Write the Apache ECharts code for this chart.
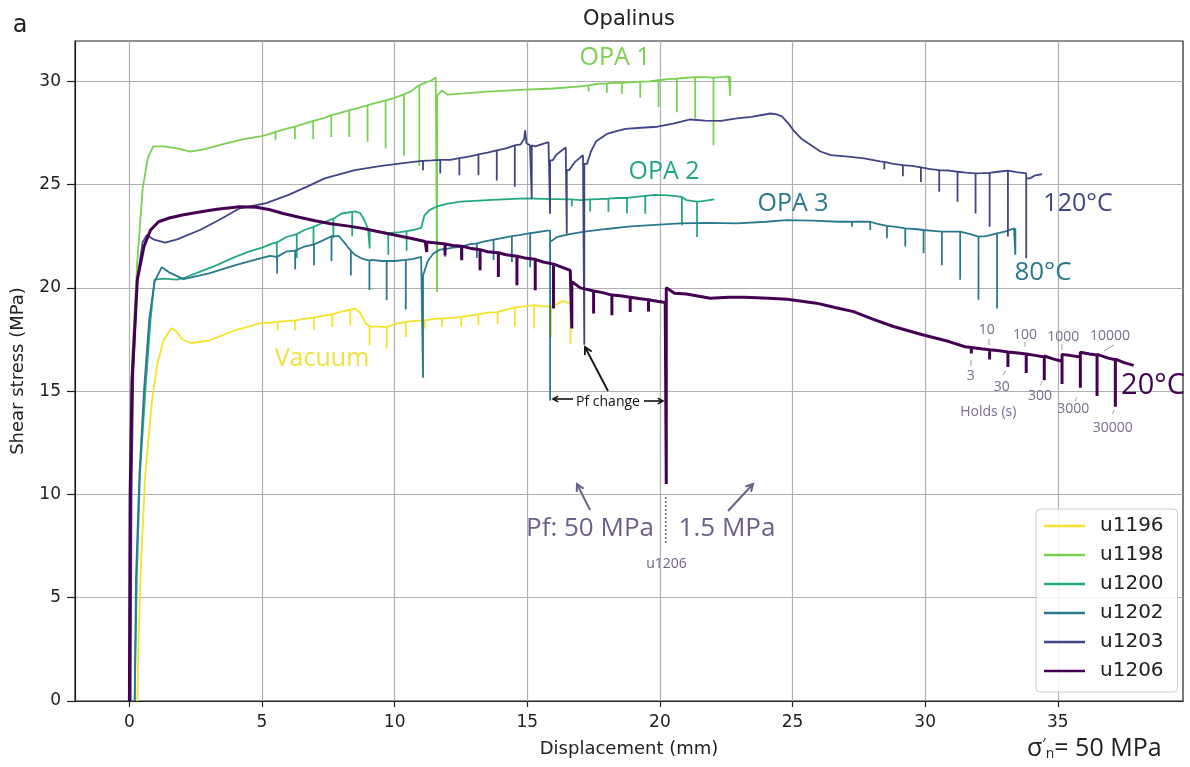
<!DOCTYPE html>
<html><head><meta charset="utf-8">
<script src="https://cdn.jsdelivr.net/npm/echarts@6/dist/echarts.min.js"></script>
<style>html,body{margin:0;padding:0;background:#fff}#c{width:1190px;height:767px}</style>
</head><body><div id="c"></div>
<script>
// ---------------- DATA ----------------
const seriesNames = ['u1196','u1198','u1200','u1202','u1203','u1206'];
const xTicks = [0,5,10,15,20,25,30,35];
const yTicks = [0,5,10,15,20,25,30];

// u1196 (Vacuum)
const u1196_x = [0.3,0.35,0.45,0.6,0.85,1.05,1.3,1.6,1.8,2.0,2.33,3.0,4.0,5.0,5.3,5.9,6.6,7.3,8.0,8.5,8.7,8.9,9.4,10.0,10.8,11.5,12.2,12.8,13.5,14.2,14.9,15.6,16.1,16.34,16.5];
const u1196_y = [0,3,7,11,14.5,16.3,17.5,18.05,17.85,17.5,17.33,17.45,17.95,18.3,18.3,18.4,18.5,18.65,18.85,19.0,18.8,18.3,18.12,18.25,18.4,18.5,18.55,18.65,18.8,18.95,19.1,19.1,19.2,19.37,19.3];
const u1196_holds = [[5.59,18.35,17.95],[6.24,18.43,17.95],[6.96,18.56,17.98],[7.65,18.72,18.11],[8.33,18.95,18.19],[9.05,18.14,17.22],[9.7,18.1,17.06],[10.42,18.35,17.62],[11.14,18.43,18.03],[11.79,18.52,18.1],[12.51,18.6,18.1],[13.16,18.72,18.2],[13.88,18.83,18.25],[14.53,19.05,18.11],[15.26,19.16,18.03],[15.9,19.11,17.62],[16.63,19.24,17.3]];

// u1198 (OPA 1)
const u1198_x = [0.0,0.02,0.1,0.3,0.5,0.7,0.9,1.3,1.8,2.3,2.8,3.5,4.3,5.0,5.3,5.9,6.6,7.3,7.9,8.6,9.3,10.0,10.6,10.85,11.1,11.4,11.55,11.65,11.78,12.0,12.5,13.5,14.9,16.0,17.0,17.7,18.3,18.9,19.6,20.3,21.0,21.7,22.3,22.6];
const u1198_y = [0,12,16.5,21.3,24.8,26.3,26.85,26.85,26.75,26.6,26.7,26.95,27.2,27.35,27.45,27.7,27.95,28.2,28.45,28.7,28.95,29.2,29.5,29.75,29.9,30.05,30.2,29.3,29.55,29.35,29.4,29.5,29.6,29.65,29.75,29.88,29.93,29.95,30.0,30.1,30.17,30.2,30.2,30.24];
const u1198_holds = [[5.51,27.55,27.15],[6.24,27.8,27.2],[6.93,28.08,27.2],[7.61,28.36,27.3],[8.29,28.6,27.3],[8.98,28.84,27.07],[9.66,29.08,26.75],[10.35,29.37,26.4],[10.93,29.8,25.9],[11.6,30.2,19.8,29.3],[17.31,29.8,29.5],[18.0,29.9,29.45],[18.57,29.93,29.4],[19.26,29.98,29.2],[19.95,30.05,28.75],[20.64,30.13,28.5],[21.33,30.2,28.2],[22.02,30.18,26.9],[22.65,30.24,29.3]];

// u1200 (OPA 2)
const u1200_x = [0.2,0.28,0.4,0.6,0.8,0.95,1.3,1.8,2.1,2.7,3.3,3.9,4.5,5.0,5.4,5.9,6.6,7.3,8.0,8.5,8.7,8.85,9.0,9.3,9.8,10.2,10.7,11.0,11.12,11.3,11.6,12.0,12.5,13.5,14.9,16.0,17.0,17.7,18.4,19.1,19.8,20.3,20.5,21.0,21.6,22.05];
const u1200_y = [0,6,11,15,18.5,20.4,20.45,20.4,20.5,20.8,21.1,21.45,21.75,21.95,22.15,22.45,22.8,23.15,23.6,23.7,23.62,23.3,22.85,22.75,22.65,22.7,22.8,22.9,23.5,23.75,23.95,24.08,24.17,24.25,24.33,24.3,24.25,24.3,24.35,24.4,24.5,24.48,24.45,24.25,24.2,24.28];
const u1200_holds = [[5.56,22.2,21.3],[6.31,22.6,21.45],[6.94,22.95,22.1],[7.69,23.35,22.4],[8.4,23.68,22.5],[9.06,22.82,21.9],[9.76,22.65,21.6],[10.45,22.75,21.8],[16.68,24.28,23.95],[17.37,24.28,23.7],[18.06,24.32,23.68],[18.76,24.36,23.6],[19.45,24.45,23.59],[20.83,24.4,23.03],[21.4,24.17,22.46]];

// u1202 (OPA 3, 80°C)
const u1202_x = [0.2,0.25,0.38,0.55,0.75,0.95,1.22,1.5,2.04,3.0,4.0,5.0,5.3,5.9,6.6,7.3,7.66,7.9,8.1,8.25,8.5,8.8,9.15,9.5,10.0,10.7,11.0,11.12,11.25,11.45,11.7,12.2,12.8,13.4,14.0,14.7,15.3,15.75,15.95,16.1,16.6,17.16,18.0,18.79,19.8,20.78,21.8,22.9,24.0,24.78,25.8,26.7,27.6,28.2,28.9,29.6,30.3,31.0,31.7,32.3,33.0,33.35];
const u1202_y = [0,6,11,15,18.5,20.3,21.0,20.75,20.42,20.7,21.1,21.45,21.55,21.75,22.0,22.3,22.56,22.5,22.2,21.95,21.6,21.4,21.35,21.3,21.3,21.4,21.5,20.6,21.3,21.65,21.85,21.95,22.1,22.25,22.4,22.55,22.68,22.77,22.3,22.45,22.6,22.72,22.85,22.96,23.05,23.12,23.15,23.12,23.2,23.28,23.25,23.2,23.2,23.1,22.95,22.85,22.76,22.72,22.6,22.5,22.72,22.88];
const u1202_holds = [[5.57,21.5,20.7],[6.25,21.8,20.9],[6.96,22.1,21.1],[7.62,22.5,21.3],[8.35,21.8,20.6],[9.05,21.32,19.9],[9.7,21.3,19.4],[10.42,21.35,18.95],[11.07,21.5,15.65,20.6],[11.9,21.88,21.5],[12.5,21.98,21.4],[13.1,22.15,21.45],[13.73,22.33,21.35],[14.42,22.5,21.25],[15.11,22.65,21.0],[15.86,22.77,14.55,22.25],[27.24,23.2,22.96],[27.93,23.2,22.8],[28.56,23.0,22.4],[29.25,22.88,22.0],[29.94,22.8,21.67],[30.63,22.72,21.1],[31.32,22.72,20.39],[32.01,22.48,19.42],[32.71,22.64,19.0],[33.4,22.88,21.6]];

// u1203 (120°C)
const u1203_x = [0.05,0.08,0.15,0.3,0.5,0.66,0.9,1.35,1.8,2.66,3.4,4.16,5.16,6.0,6.7,7.36,8.5,9.5,10.4,10.95,11.4,12.1,12.8,13.5,14.2,14.75,14.88,14.92,14.97,15.1,15.3,15.8,15.95,16.1,16.3,16.45,16.58,16.8,17.1,17.25,17.4,17.6,18.0,18.4,18.7,19.3,19.9,20.5,21.15,21.7,22.3,22.9,23.45,23.9,24.17,24.4,24.6,24.85,25.05,25.35,25.7,26.05,26.45,27.1,27.7,28.3,28.8,29.5,30.2,30.9,31.55,32.15,32.75,33.45,33.95,34.15,34.4];
const u1203_y = [0,10,16,20.5,22.2,22.56,22.35,22.19,22.35,22.8,23.3,23.85,24.1,24.5,24.9,25.3,25.7,25.9,26.05,26.13,26.17,26.2,26.35,26.55,26.75,26.95,27.2,27.63,27.0,26.9,26.85,27.05,26.17,26.45,26.65,26.8,25.7,26.1,26.42,26.0,26.6,27.1,27.45,27.6,27.7,27.75,27.8,27.95,28.15,28.1,28.08,28.2,28.28,28.38,28.44,28.4,28.3,27.95,27.6,27.2,26.9,26.6,26.43,26.35,26.27,26.12,26.0,25.9,25.75,25.68,25.58,25.55,25.62,25.6,25.3,25.45,25.5];
const u1203_holds = [[11.07,26.15,25.69],[11.72,26.2,25.53],[12.44,26.28,25.45],[13.16,26.46,25.45],[13.85,26.66,25.2],[14.53,26.9,24.9],[15.17,26.9,24.3],[15.86,27.05,23.59,26.17],[16.49,26.82,22.62,25.7],[17.15,26.42,17.25,26.0],[28.46,26.1,25.73],[29.16,25.94,25.4],[29.84,25.83,25.13],[30.53,25.7,24.65],[31.22,25.62,24.17],[31.9,25.54,23.6],[32.43,25.57,22.96],[33.12,25.67,22.48],[33.81,25.54,21.43,25.3]];

// u1206 (20°C)
const u1206_x = [0.0,0.03,0.1,0.3,0.55,0.8,1.1,1.5,2.0,2.7,3.3,4.16,4.8,5.3,5.8,6.4,7.0,7.6,8.2,8.8,9.4,10.0,10.6,11.15,11.5,12.2,12.9,13.5,14.2,14.9,15.6,16.3,16.62,16.75,17.0,17.8,18.5,19.2,19.9,20.2,20.3,20.55,21.0,21.9,22.6,23.2,24.1,24.8,25.9,26.6,27.3,28.0,28.8,29.9,30.9,31.5,32.1,32.8,33.5,34.2,34.85,35.5,36.2,36.9,37.5,37.86];
const u1206_y = [0,10,15.5,20.4,22.0,22.8,23.2,23.38,23.53,23.68,23.8,23.93,23.9,23.78,23.6,23.42,23.25,23.1,23.0,22.88,22.72,22.56,22.4,22.24,22.18,22.05,21.9,21.75,21.6,21.45,21.25,21.0,20.85,20.25,20.0,19.78,19.62,19.48,19.35,19.29,20.0,19.74,19.7,19.5,19.55,19.55,19.5,19.45,19.26,19.05,18.85,18.5,18.13,17.73,17.4,17.15,17.05,16.95,16.85,16.72,16.55,16.72,16.8,16.6,16.38,16.25];
const u1206_holds = [[11.21,22.22,21.74],[11.9,22.12,21.58],[12.53,22.02,21.34],[13.22,21.85,20.85],[13.91,21.7,20.53],[14.61,21.53,20.13],[15.3,21.38,19.88],[15.99,21.15,19.0],[16.68,20.84,18.03,20.3],[17.5,19.85,18.76],[18.19,19.65,18.67],[18.88,19.55,18.83],[19.57,19.42,18.85],[20.24,19.29,10.5,20.0],[31.74,17.11,16.82],[32.43,17.0,16.53],[33.12,16.9,16.17],[33.81,16.8,15.88],[34.49,16.65,15.53,16.7],[35.16,16.45,15.34,16.78],[35.85,16.65,15.17,16.88],[36.48,16.75,14.76,16.78],[37.17,16.52,14.24,16.55]];

// ---------------- BUILD ----------------
function build(xs, ys, holds) {
  const items = xs.map((x, i) => ({x: x, o: 0, pts: [[x, ys[i]]]}));
  holds.forEach(h => {
    const after = h.length > 3 ? h[3] : h[1];
    items.push({x: h[0], o: 1, pts: [[h[0], h[1]], [h[0], h[2]], [h[0], after]]});
  });
  items.sort((a, b) => a.x - b.x || a.o - b.o);
  const out = [];
  items.forEach(it => it.pts.forEach(p => out.push(p)));
  return out;
}
const seriesData = [
  build(u1196_x, u1196_y, u1196_holds),
  build(u1198_x, u1198_y, u1198_holds),
  build(u1200_x, u1200_y, u1200_holds),
  build(u1202_x, u1202_y, u1202_holds),
  build(u1203_x, u1203_y, u1203_holds),
  build(u1206_x, u1206_y, u1206_holds)
];
const colors = ['#f3e32a','#7ad151','#22a884','#2a788e','#414487','#440154'];
const widths = [1.8,1.8,1.8,1.8,1.8,3.0];

const chart = echarts.init(document.getElementById('c'), null, {renderer: 'canvas'});

const TXT = '#222222';
const ANN = '#6e5f8a';
function text(t, x, y, size, color, family, extra) {
  return Object.assign({type: 'text', x: x, y: y, z: 100,
    style: {text: t, fill: color, fontSize: size, fontFamily: family || 'Open Sans', align: 'center', verticalAlign: 'middle'}}, extra || {});
}
function seg(x1, y1, x2, y2, color, w, dash) {
  return {type: 'line', z: 100, shape: {x1: x1, y1: y1, x2: x2, y2: y2}, style: {stroke: color, lineWidth: w, lineDash: dash || null}};
}
function arrow(x1, y1, x2, y2, color, w, head) {
  const ang = Math.atan2(y2 - y1, x2 - x1), h = head || 7, a = 0.5;
  return [seg(x1, y1, x2, y2, color, w),
    {type: 'polyline', z: 100, shape: {points: [[x2 - h * Math.cos(ang - a), y2 - h * Math.sin(ang - a)], [x2, y2], [x2 - h * Math.cos(ang + a), y2 - h * Math.sin(ang + a)]]},
     style: {stroke: color, lineWidth: w, fill: null}}];
}

const holdLabels = [['10',986.7,330],['100',1025,335],['1000',1063.3,336.7],['10000',1110,336],['3',970.7,375.7],['30',1001.7,387.3],['300',1040,396],['3000',1073.3,409.3],['30000',1112.7,428.3],['Holds (s)',988.3,411.7]];
const holdLinks = [[989,339,989,345],[1025,342,1025,347],[1062,344,1062,350],[1104,351,1114,345],[971,360,971,366],[1005.5,371,1003,375],[1042.5,381,1040.5,385],[1077,397,1075,401],[1114,410,1112.5,414]];

let graphics = [
  text('a', 20, 26, 24, TXT, 'DejaVu Sans'),
  text('Opalinus', 629, 20, 21, TXT, 'DejaVu Sans'),
  text('Displacement (mm)', 629, 749, 18, TXT, 'DejaVu Sans'),
  text('Shear stress (MPa)', 18, 371, 18, TXT, 'DejaVu Sans', {rotation: Math.PI / 2}),
  text('OPA 1', 615, 58, 25, '#7ad151'),
  text('OPA 2', 664, 172, 25, '#22a884'),
  text('OPA 3', 793, 204, 25, '#2a788e'),
  text('120°C', 1078, 204, 25, '#414487'),
  text('80°C', 1043, 273, 26, '#2a788e'),
  text('20°C', 1153, 386, 29, '#440154'),
  text('Vacuum', 322, 359, 25, '#f0e040'),
  text('Pf: 50 MPa', 590, 529, 26, ANN),
  text('1.5 MPa', 727, 529, 26, ANN),
  text('u1206', 666.5, 564, 14, ANN),
  text('Pf change', 608, 402, 14, '#111111'),
  seg(665.7, 497, 665.7, 543, ANN, 1.5, [2, 2]),
  {type: 'text', x: 1027, y: 749, z: 100, style: {text: '{a|σ}{p|′}{n|n}{a|= 50 MPa}', align: 'left', verticalAlign: 'middle',
    rich: {a: {fontSize: 25, fontFamily: 'Open Sans', fill: TXT},
           p: {fontSize: 15, fontFamily: 'Open Sans', fill: TXT, verticalAlign: 'top'},
           n: {fontSize: 14, fontFamily: 'Open Sans', fill: TXT, verticalAlign: 'bottom'}}}}
];
graphics = graphics.concat(arrow(590, 510, 577, 484, ANN, 2, 8));
graphics = graphics.concat(arrow(728, 511, 753, 484, ANN, 2, 8));
graphics = graphics.concat(arrow(573, 399, 553, 399, '#111', 1.6, 6));
graphics = graphics.concat(arrow(644, 401, 663, 401, '#111', 1.6, 6));
graphics = graphics.concat(arrow(608, 391, 585, 347, '#111', 1.8, 8));
holdLabels.forEach(l => graphics.push(text(l[0], l[1], l[2], 14, '#7a6c8e')));
holdLinks.forEach(l => graphics.push(seg(l[0], l[1], l[2], l[3], '#8a7c9c', 0.8)));

const option = {
  animation: false,
  backgroundColor: '#ffffff',
  grid: {left: 75, right: 7, top: 41, bottom: 66, show: true, borderColor: '#222', borderWidth: 1.2, backgroundColor: 'transparent'},
  xAxis: {
    type: 'value', min: -2.05, max: 39.72,
    axisLine: {show: true, onZero: false, lineStyle: {color: '#222', width: 1.2}},
    axisTick: {show: true, length: 6, lineStyle: {color: '#222', width: 1.2}, customValues: xTicks},
    axisLabel: {customValues: xTicks, fontFamily: 'DejaVu Sans', fontSize: 17, color: TXT, margin: 13},
    splitLine: {show: true, lineStyle: {color: '#b0b0b0', width: 1.2}}
  },
  yAxis: {
    type: 'value', min: 0, max: 31.95,
    axisLine: {show: true, onZero: false, lineStyle: {color: '#222', width: 1.2}},
    axisTick: {show: true, length: 8, lineStyle: {color: '#222', width: 1.2}, customValues: yTicks},
    axisLabel: {customValues: yTicks, fontFamily: 'DejaVu Sans', fontSize: 17, color: TXT, margin: 14},
    splitLine: {show: true, lineStyle: {color: '#b0b0b0', width: 1.2}}
  },
  legend: {
    orient: 'vertical', left: 1036, top: 509,
    icon: 'rect', itemWidth: 41, itemHeight: 2.5, itemGap: 9,
    padding: [7, 14, 11, 8],
    backgroundColor: 'rgba(255,255,255,0.85)', borderColor: '#cccccc', borderWidth: 1, borderRadius: 4,
    textStyle: {fontFamily: 'DejaVu Sans', fontSize: 20, color: TXT, lineHeight: 20, padding: [0, 0, 0, 10]},
    data: seriesNames
  },
  series: seriesNames.map((n, i) => ({
    name: n, type: 'line', data: seriesData[i], showSymbol: false, symbol: 'none',
    lineStyle: {color: colors[i], width: widths[i]}, itemStyle: {color: colors[i]},
    z: 2 + i, silent: true
  })),
  graphic: graphics
};
chart.setOption(option);
</script></body></html>
